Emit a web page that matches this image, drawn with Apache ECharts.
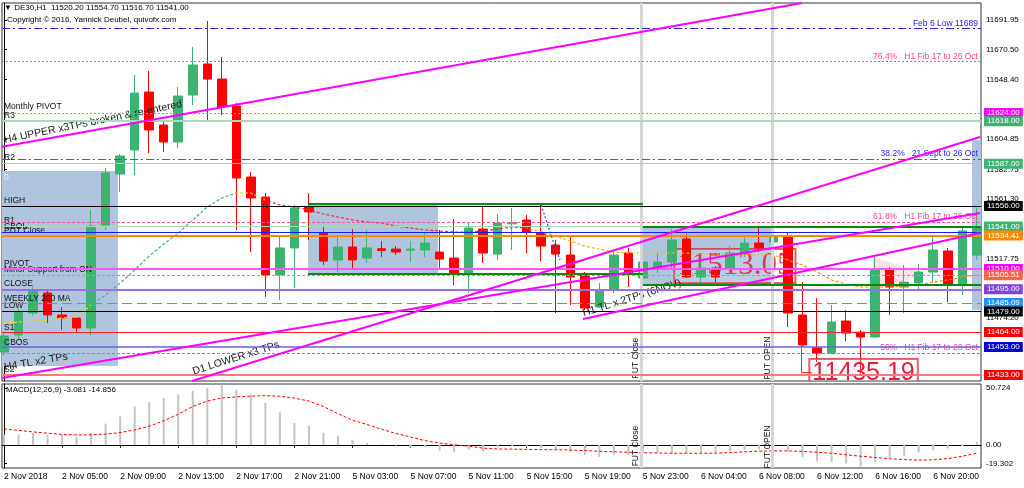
<!DOCTYPE html>
<html><head><meta charset="utf-8">
<script src="https://cdn.jsdelivr.net/npm/echarts@6/dist/echarts.min.js"></script>
<style>html,body{margin:0;padding:0;background:#fff}#c{width:1024px;height:488px}</style>
</head><body><div id="c"></div><script>
// ---------------- DATA ----------------
const barTimes = [
 '2 Nov 01:00','2 Nov 02:00','2 Nov 03:00','2 Nov 04:00','2 Nov 05:00','2 Nov 06:00','2 Nov 07:00','2 Nov 08:00','2 Nov 09:00','2 Nov 10:00','2 Nov 11:00',
 '2 Nov 12:00','2 Nov 13:00','2 Nov 14:00','2 Nov 15:00','2 Nov 16:00','2 Nov 17:00','2 Nov 18:00','2 Nov 19:00','2 Nov 20:00','2 Nov 21:00','2 Nov 22:00',
 '5 Nov 01:00','5 Nov 02:00','5 Nov 03:00','5 Nov 04:00','5 Nov 05:00','5 Nov 06:00','5 Nov 07:00','5 Nov 08:00','5 Nov 09:00','5 Nov 10:00','5 Nov 11:00',
 '5 Nov 12:00','5 Nov 13:00','5 Nov 14:00','5 Nov 15:00','5 Nov 16:00','5 Nov 17:00','5 Nov 18:00','5 Nov 19:00','5 Nov 20:00','5 Nov 21:00','5 Nov 22:00','5 Nov 23:00',
 '6 Nov 01:00','6 Nov 02:00','6 Nov 03:00','6 Nov 04:00','6 Nov 05:00','6 Nov 06:00','6 Nov 07:00','6 Nov 08:00','6 Nov 09:00','6 Nov 10:00','6 Nov 11:00',
 '6 Nov 12:00','6 Nov 13:00','6 Nov 14:00','6 Nov 15:00','6 Nov 16:00','6 Nov 17:00','6 Nov 18:00','6 Nov 19:00','6 Nov 20:00','6 Nov 21:00','6 Nov 22:00','6 Nov 23:00'
];
const xTickIdx = [0,4,8,12,16,20,24,28,32,36,40,44,48,52,56,60,64];
const xTickText = ['2 Nov 2018','2 Nov 05:00','2 Nov 09:00','2 Nov 13:00','2 Nov 17:00','2 Nov 21:00','5 Nov 03:00','5 Nov 07:00','5 Nov 11:00',
 '5 Nov 15:00','5 Nov 19:00','5 Nov 23:00','6 Nov 04:00','6 Nov 08:00','6 Nov 12:00','6 Nov 16:00','6 Nov 20:00'];
const priceTicks = [11691.95,11670.50,11648.40,11604.85,11582.75,11561.30,11517.75,11474.20];
const macdRange = [-19.302, 50.724];
const macdTickText = ['50.724','0.00','-19.302'];
const macdTickAt = [47.4, 0, -15.4];   // where MT4 prints those labels

const openP  = [11449.4,11461.8,11477.9,11492.5,11476.4,11474.2,11466.9,11542.1,11579.4,11597.0,11639.3,11615.2,11602.8,11637.1,11659.8,11648.8,11629.1,11577.2,11562.6,11505.6,11525.4,11555.3,
 11536.3,11516.6,11526.1,11518.0,11524.8,11524.6,11523.8,11523.9,11522.4,11518.0,11507.1,11539.2,11520.9,11543.0,11545.8,11536.3,11527.5,11520.2,11505.6,11482.2,11494.7,11521.7,11503.4,
 11510.7,11515.1,11531.9,11504.2,11510.7,11510.7,11521.7,11529.0,11529.7,11533.4,11476.4,11452.3,11448.6,11472.0,11463.9,11460.3,11509.3,11496.8,11499.8,11507.8,11523.2,11499.0,11520.2];
const closeP = [11461.0,11478.6,11494.7,11476.4,11474.2,11466.9,11541.4,11580.2,11592.6,11638.6,11611.6,11602.8,11636.4,11659.1,11648.8,11628.4,11576.5,11561.9,11505.6,11525.4,11554.6,11551.7,
 11515.8,11526.1,11516.6,11525.4,11523.5,11522.4,11524.6,11529.0,11517.3,11507.1,11540.0,11521.7,11543.6,11544.0,11537.1,11526.8,11520.9,11504.2,11481.5,11494.7,11520.2,11507.1,11515.1,
 11515.1,11531.2,11504.2,11510.7,11504.2,11521.7,11529.0,11525.4,11533.4,11477.9,11454.5,11448.6,11471.3,11463.2,11460.3,11509.3,11496.8,11500.5,11507.8,11523.9,11498.3,11537.8,11541.0];
const lowP   = [11447.0,11459.0,11476.0,11470.5,11465.4,11463.2,11461.8,11538.5,11566.3,11578.7,11594.8,11595.5,11598.4,11629.8,11617.4,11622.5,11538.5,11522.4,11489.5,11487.4,11496.1,11531.2,
 11512.9,11507.8,11509.3,11514.4,11518.8,11520.2,11515.1,11518.8,11509.3,11498.3,11492.4,11514.4,11516.6,11523.9,11521.7,11515.8,11477.9,11483.7,11480.0,11481.5,11492.4,11496.8,11500.5,
 11507.1,11509.3,11503.4,11499.8,11500.5,11507.8,11518.8,11522.4,11528.3,11467.6,11453.7,11442.0,11447.9,11457.4,11432.6,11459.6,11476.4,11477.9,11494.7,11500.5,11485.9,11491.0,11516.7];
const highP  = [11463.0,11481.0,11497.0,11494.7,11482.2,11474.5,11553.1,11583.8,11594.0,11651.8,11654.7,11618.9,11643.0,11672.2,11691.2,11664.9,11631.3,11580.9,11565.5,11533.4,11556.8,11565.5,
 11540.7,11534.1,11539.2,11538.5,11530.5,11526.8,11530.5,11536.3,11538.5,11546.5,11543.6,11555.3,11550.2,11554.6,11549.5,11556.8,11531.2,11534.8,11507.8,11499.8,11523.9,11525.4,11520.2,
 11521.7,11539.2,11535.6,11516.6,11512.0,11526.8,11533.4,11540.7,11548.0,11536.3,11500.5,11488.8,11483.7,11480.0,11465.4,11518.8,11511.4,11512.9,11513.6,11533.4,11525.4,11540.0,11554.7];

const maLine = [11470.56,11471.29,11472.02,11472.75,11474.21,11474.94,11483.71,11491.01,11499.78,11509.28,11519.51,11528.28,11536.31,11545.82,11555.45,
 11561.89,11565.55,11565.55,11560.43,11556.78,11555.31,11553.12,11550.20,11548.01,11545.82,11544.35,11543.62,11541.43,11539.97,11538.51,
 11537.78,11537.05,11537.05,11537.78,11539.24,11540.70,11539.97,11537.05,11534.13,11530.48,11526.82,11524.63,11522.44,11521.71,11521.71,
 11521.71,11521.71,11521.71,11520.98,11520.98,11520.98,11520.25,11520.25,11520.25,11516.59,11512.94,11507.82,11501.98,11499.05,11496.86,
 11496.86,11496.86,11497.59,11498.32,11500.51,11501.98,11504.17,11505.63];

const macdHist = [8.5,8.5,9.9,8.5,8.5,6.5,9.9,17.7,23.7,32,35.5,39,42,45,47.3,50.2,46,42,35,27,18.3,16,10,7.6,4.2,1.7,0.5,-0.5,-2,-2,
 -5,-6,-4,-5.5,-2,-1,-1.5,-2.5,-3.5,-5.6,-8.5,-10,-8.5,-8.5,-7,-7,-7,-7,-7,-6.5,-5.6,-4.2,-3.7,-2.8,-5.6,-10,-14,-14.5,-15.5,-18,
 -14,-11,-9,-6.5,-4.5,-3,-1,2.5];
const macdSignal = [13.3,12,10.8,9.7,8.7,8.3,8.4,9,10.2,12.5,15.5,20,25.5,32,36.5,39,40,40.6,41,40.5,39,36.5,32,26,20.5,17,13,9.5,6.5,3.5,
 1.5,0,-1,-2.8,-3.4,-3.6,-3.8,-4,-4.1,-4.3,-4.8,-5.3,-5.8,-6.2,-6.5,-6.8,-7,-7,-7,-7,-6.5,-5.8,-5.3,-5,-5,-5.5,-6.2,-7,-8.3,-9.5,
 -10.5,-11.5,-12.3,-12.7,-12.5,-11.5,-9.5,-7];

// horizontal levels: key, price, fromBar, toBar (null = full width), price box text
const hLevels = [
 ['feb6',11685.7,null,null,null],['fib764',11661.5,null,null,null],['mpivot',11624,null,null,'11624.00'],['r3',11618,null,null,'11618.00'],
 ['fib382',11590.4,null,null,null],['r2',11587,null,null,'11587.00'],['zone',11581.6,-0.14,20.94,null],['high',11556,null,null,'11556.00'],
 ['zone',11557.9,20.94,44,null],['r1',11544.4,null,null,null],['blue',11536.8,null,null,'11537.00'],['cbol',11541,null,null,'11541.00'],
 ['pdt',11534.41,null,null,'11534.41'],['zone',11540.7,44,67.29,null],['pivot',11510,null,null,'11510.00'],['minor',11505.51,null,null,'11505.51'],
 ['zone',11506.4,20.94,44,null],['zone',11498.7,44,67.29,null],['close',11495.2,null,null,'11495.00'],['wma',11485.09,null,null,'11485.09'],
 ['low',11479,null,null,'11479.00'],['s1',11464,null,null,'11464.00'],['cbos',11453,null,null,'11453.00'],['fib50',11448.8,null,null,null],
 ['zone',11439.4,-0.14,20.94,null],['s2',11432.5,null,null,'11433.00']
];
// trend lines: bar1, price1, bar2, price2
const trendLines = [[-0.138,11599.4,54.96,11704.37],[12.95,11428.18,67.22,11606.5],[-0.138,11430.4,67.22,11550.9],[39.88,11473.5,67.22,11536.3]];
// zones (rectangles): bar1, price1, bar2, price2
const zones = [[-0.14,11581.6,7.85,11439.1],[20.94,11557.9,29.9,11506.4],[44,11540.7,52.96,11498.7],[66.67,11604.3,67.29,11480]];
// pink triangle: bar/price vertices
const pinkTriangle = [[59.85,11518.8],[63.6,11506.5],[59.85,11494.7]];
// blue dotted projection near bar 37
const blueArrow = [[37,11556.8],[37.7,11534.0],[38.3,11516.6]];
const futLines = [43.92,52.9];

// ---------------- STYLES ----------------
const FONT = 'Liberation Sans, Arial, sans-serif';
const lvlStyle = {
 feb6:{c:'#2a2aff',w:1,t:[8,3,2,3]}, fib764:{c:'#ff4fa7',w:1,t:[2,2]}, mpivot:{c:'#ff5cff',w:1,t:[2,2],bg:'#ff00ff'},
 r3:{c:'#a6dcbb',w:2,t:'solid',bg:'#3cb371'}, fib382:{c:'#4a4aff',w:1,t:[8,3,2,3]}, r2:{c:'#9fd8b5',w:1,t:'solid',bg:'#3cb371'},
 zone:{c:'#0a8a0a',w:2,t:'solid'}, high:{c:'#000',w:1,t:'solid',bg:'#000'}, r1:{c:'#ff4fa7',w:1,t:[3,2]},
 blue:{c:'#1a1aff',w:1,t:'solid',bg:'#0000ff'}, cbol:{c:'#a6dcbb',w:1,t:'solid',bg:'#3cb371'}, pdt:{c:'#ff8c00',w:2,t:'solid',bg:'#ff8c00'},
 pivot:{c:'#ff55ff',w:2,t:'solid',bg:'#ff00ff'}, minor:{c:'#ff7b6b',w:1,t:[3,2],bg:'#ff6347'}, close:{c:'#9a6ee8',w:2,t:'solid',bg:'#8040e0'},
 wma:{c:'#3c9cff',w:1,t:[10,5],bg:'#1e90ff'}, low:{c:'#000',w:1,t:'solid',bg:'#000'}, s1:{c:'#ff2020',w:1,t:'solid',bg:'#ff0000'},
 cbos:{c:'#6464d8',w:1.5,t:'solid',bg:'#0000cd'}, fib50:{c:'#ff4fa7',w:1,t:[3,2]}, s2:{c:'#f47c7c',w:2,t:'solid',bg:'#ff0000'}
};

const leftLabels = [['Monthly PIVOT',11628.4],['R3',11622.2],['R2',11591.1],['0',11576.5],['HIGH',11559.9],['R1',11545.4],['CBOL',11541.0],
 ['PDT Close',11537.8],['PIVOT',11513.7],['Minor Support from ON',11509.6],['CLOSE',11499.0],['WEEKLY 200 MA',11488.6],['LOW',11483.0],
 ['S1',11467.4],['CBOS',11456.4],['S2',11436.7]];
const rightLabels = [['Feb 6 Low 11689',11689.5,'#2020ff'],['76.4%   H1 Fib 17 to 26 Oct',11665.1,'#ff3fa0'],['38.2%   21 Sept to 26 Oct',11594.0,'#2020ff'],
 ['61.8%   H1 Fib 17 to 26 Oct',11548.2,'#ff3fa0'],['50%   H1 Fib 17 to 26 Oct',11452.8,'#ff3fa0']];
const tlLabels = [['H4 UPPER x3TPs broken & re-entered',6.13,11617.4,11.5],['H4 TL x2 TPs',2.2,11442.1,10],['D1 LOWER x3 TPs',15.98,11444.9,17.5],
 ['H1 TL x 2TPs (6NOV)',43.25,11488.8,17.5]];
const futLabels = [['FUT Close',43.53,11444.9,-1.0],['FUT OPEN',52.6,11444.9,-1.8]];

// ---------------- BUILD ----------------
const candleData = openP.map((o,i)=>[i,o,closeP[i],lowP[i],highP[i]]);
const textItems = [];
leftLabels.forEach(l=>textItems.push({text:l[0],x:0,p:l[1],color:l[0]==='0'?'#e8eef6':'#111',size:8.5,align:'left',rot:0}));
rightLabels.forEach(l=>textItems.push({text:l[0],x:67.08,p:l[1],color:l[2],size:8.5,align:'right',rot:0}));
tlLabels.forEach(l=>textItems.push({text:l[0],x:l[1],p:l[2],color:'#1a1a1a',size:10.5,align:'center',rot:l[3]}));
futLabels.forEach(l=>textItems.push({text:l[0],x:l[1],p:l[2],color:'#111',size:8.5,align:'center',rot:90}));
textItems.push({text:'11435.19',x:59.2,p:11434.0,color:'#e0203c',size:25,align:'center',rot:0,box:true,family:FONT});
const macdTextItems = futLabels.map(l=>({text:l[0],x:l[1],p:l[3],color:'#111',size:8.5,align:'center',rot:90}));
const bigTexts = [{text:'11513.05',x:50.34,p:11512.2,color:'rgba(225,30,60,0.85)',size:31,align:'center',rot:0,box:true,family:'Liberation Serif, Times New Roman, serif'}];

function textRender(items){
  return function(params, api){
    const t = items[api.value(2)];
    const pt = api.coord([api.value(0), api.value(1)]);
    const st = {text:t.text, fill:t.color, font:`${t.size}px ${t.family||FONT}`, align:t.align, verticalAlign:'middle'};
    if (t.box){ st.borderColor='rgba(220,40,60,0.8)'; st.borderWidth=1; st.padding=[2,3,1,3]; st.backgroundColor='rgba(255,255,255,0.15)'; }
    return {type:'text', x:pt[0], y:pt[1], rotation:t.rot*Math.PI/180, style:st, silent:true};
  };
}

const markLines = [];
hLevels.forEach(l=>{
  const s = lvlStyle[l[0]];
  const ls = {color:s.c, width:s.w, type:s.t};
  if (l[2]===null){
    const item = {yAxis:l[1], lineStyle:ls};
    if (l[4]) item.label = {show:true, position:'end', formatter:l[4], color:'#fff', backgroundColor:s.bg, padding:[1,3,0,3],
      fontSize:8, fontFamily:FONT, lineHeight:9, distance:3};
    markLines.push(item);
  } else {
    markLines.push([{coord:[l[2],l[1]], lineStyle:ls},{coord:[l[3],l[1]]}]);
  }
});
trendLines.forEach(t=>markLines.push([{coord:[t[0],t[1]], lineStyle:{color:'#ff00ff',width:2,type:'solid'}},{coord:[t[2],t[3]]}]));
markLines.push([{coord:[54.9,11455.9], lineStyle:{color:'#ff3030',width:1,type:'solid'}},{coord:[54.9,11434.75]}]);
markLines.push([{coord:[54.9,11434.75], lineStyle:{color:'#ff3030',width:1,type:'solid'}},{coord:[55.65,11434.75]}]);
for (let k=0;k<blueArrow.length-1;k++) markLines.push([{coord:blueArrow[k], lineStyle:{color:'#2a4cff',width:1.2,type:[2,2]}},{coord:blueArrow[k+1]}]);

const futMark = futLines.map(v=>({xAxis:v, lineStyle:{color:'#d6d6d6',width:3,type:'solid'}}));

const xMin = -0.138, xMax = 67.29;
const option = {
  animation:false,
  backgroundColor:'#fff',
  title:[
    {text:'\u25BC DE30,H1  11520.20 11554.70 11516.70 11541.00', left:4, top:4, padding:0, textStyle:{fontSize:8, fontWeight:'normal', color:'#000', fontFamily:FONT}},
    {text:'Copyright \u00A9 2016, Yannick Deubel, quivofx.com', left:7, top:16, padding:0, textStyle:{fontSize:8, fontWeight:'normal', color:'#000', fontFamily:FONT}},
    {text:'MACD(12,26,9) -3.081 -14.856', left:6, top:386, padding:0, textStyle:{fontSize:8, fontWeight:'normal', color:'#000', fontFamily:FONT}}
  ],
  grid:[
    {left:2, right:43, top:3, height:378, show:true, borderColor:'#333', borderWidth:1, backgroundColor:'transparent'},
    {left:2, right:43, top:384, height:84, show:true, borderColor:'#333', borderWidth:1, backgroundColor:'transparent'}
  ],
  xAxis:[
    {type:'value', gridIndex:0, min:xMin, max:xMax, show:false},
    {type:'value', gridIndex:1, min:xMin, max:xMax, splitLine:{show:false},
     axisLine:{show:true, lineStyle:{color:'#000'}},
     axisTick:{show:true, length:3, customValues:xTickIdx, lineStyle:{color:'#000'}},
     axisLabel:{customValues:xTickIdx, align:'left', margin:4, fontSize:8.5, fontFamily:FONT, color:'#000',
       formatter:v=>{const k=xTickIdx.indexOf(Math.round(v)); return k>=0?xTickText[k]:'';}}}
  ],
  yAxis:[
    {type:'value', gridIndex:0, position:'right', min:11428.18, max:11704.37, splitLine:{show:false},
     axisLine:{show:true, lineStyle:{color:'#000'}},
     axisTick:{show:true, length:3, customValues:priceTicks, lineStyle:{color:'#000'}},
     axisLabel:{customValues:priceTicks, formatter:v=>v.toFixed(2), fontSize:8, fontFamily:FONT, color:'#000', margin:5}},
    {type:'value', gridIndex:1, position:'right', min:macdRange[0], max:macdRange[1], splitLine:{show:false},
     axisLine:{show:true, lineStyle:{color:'#000'}},
     axisTick:{show:true, length:3, customValues:macdTickAt, lineStyle:{color:'#000'}},
     axisLabel:{customValues:macdTickAt, fontSize:8, fontFamily:FONT, color:'#000', margin:5,
       formatter:v=>{const k=macdTickAt.indexOf(v); return k>=0?macdTickText[k]:'';}}}
  ],
  visualMap:[{type:'piecewise', show:false, dimension:0, seriesIndex:4,
    pieces:[{lt:6,color:'#e6e000'},{gte:6,lt:16,color:'#3cb371'},{gte:16,lt:18,color:'#e6e000'},{gte:18,lt:36,color:'#e03030'},{gte:36,lt:54,color:'#f0c000'},{gte:54,color:'#f08c20'}]}],
  series:[
    {type:'line', xAxisIndex:0, yAxisIndex:0, data:[], z:1, silent:true,
     markArea:{silent:true, itemStyle:{color:'#b0c4de', opacity:1}, data:zones.map(z=>[{coord:[z[0],z[1]]},{coord:[z[2],z[3]]}])}},
    {type:'custom', xAxisIndex:0, yAxisIndex:0, z:1, silent:true, clip:true, encode:{x:0,y:1},
     data:bigTexts.map((t,k)=>[t.x,t.p,k]), renderItem:textRender(bigTexts)},
    {type:'custom', xAxisIndex:0, yAxisIndex:0, z:1, silent:true, encode:{x:0,y:1},
     data:[[pinkTriangle[0][0],pinkTriangle[0][1]]],
     renderItem:(params, api)=>({type:'polygon', shape:{points:pinkTriangle.map(v=>api.coord(v))},
       style:{fill:'rgba(255,170,185,0.35)'}, silent:true})},
    {type:'candlestick', xAxisIndex:0, yAxisIndex:0, z:2, silent:true, barWidth:9, encode:{x:0,y:[1,2,3,4]},
     itemStyle:{color:'#3cb371', color0:'#ff0000', borderColor:'#3cb371', borderColor0:'#ff0000', borderWidth:1},
     data:candleData},
    {type:'line', xAxisIndex:0, yAxisIndex:0, z:3, silent:true, symbol:'none', smooth:false,
     lineStyle:{width:1.2, type:[3,2]}, data:maLine.map((v,i)=>[i,v])},
    {type:'line', xAxisIndex:0, yAxisIndex:0, z:3, silent:true, data:[],
     markLine:{silent:true, symbol:'none', animation:false, label:{show:false}, emphasis:{disabled:true}, data:futMark.concat(markLines)}},
    {type:'custom', xAxisIndex:0, yAxisIndex:0, z:4, silent:true, clip:true, encode:{x:0,y:1},
     data:textItems.map((t,k)=>[t.x,t.p,k]), renderItem:textRender(textItems)},
    {type:'bar', xAxisIndex:1, yAxisIndex:1, barWidth:2, silent:true, itemStyle:{color:'#c4c4c4'},
     data:macdHist.map((v,i)=>[i,v]),
     markLine:{silent:true, symbol:'none', label:{show:false}, data:futLines.map(v=>({xAxis:v, lineStyle:{color:'#d6d6d6',width:3,type:'solid'}}))}},
    {type:'line', xAxisIndex:1, yAxisIndex:1, symbol:'none', silent:true, lineStyle:{color:'#ff0000', width:1, type:[3,2]},
     data:macdSignal.map((v,i)=>[i,v])},
    {type:'custom', xAxisIndex:1, yAxisIndex:1, z:4, silent:true, encode:{x:0,y:1},
     data:macdTextItems.map((t,k)=>[t.x,t.p,k]), renderItem:textRender(macdTextItems)}
  ]
};
const chart = echarts.init(document.getElementById('c'), null, {renderer:'canvas'});
chart.setOption(option);
</script></body></html>
